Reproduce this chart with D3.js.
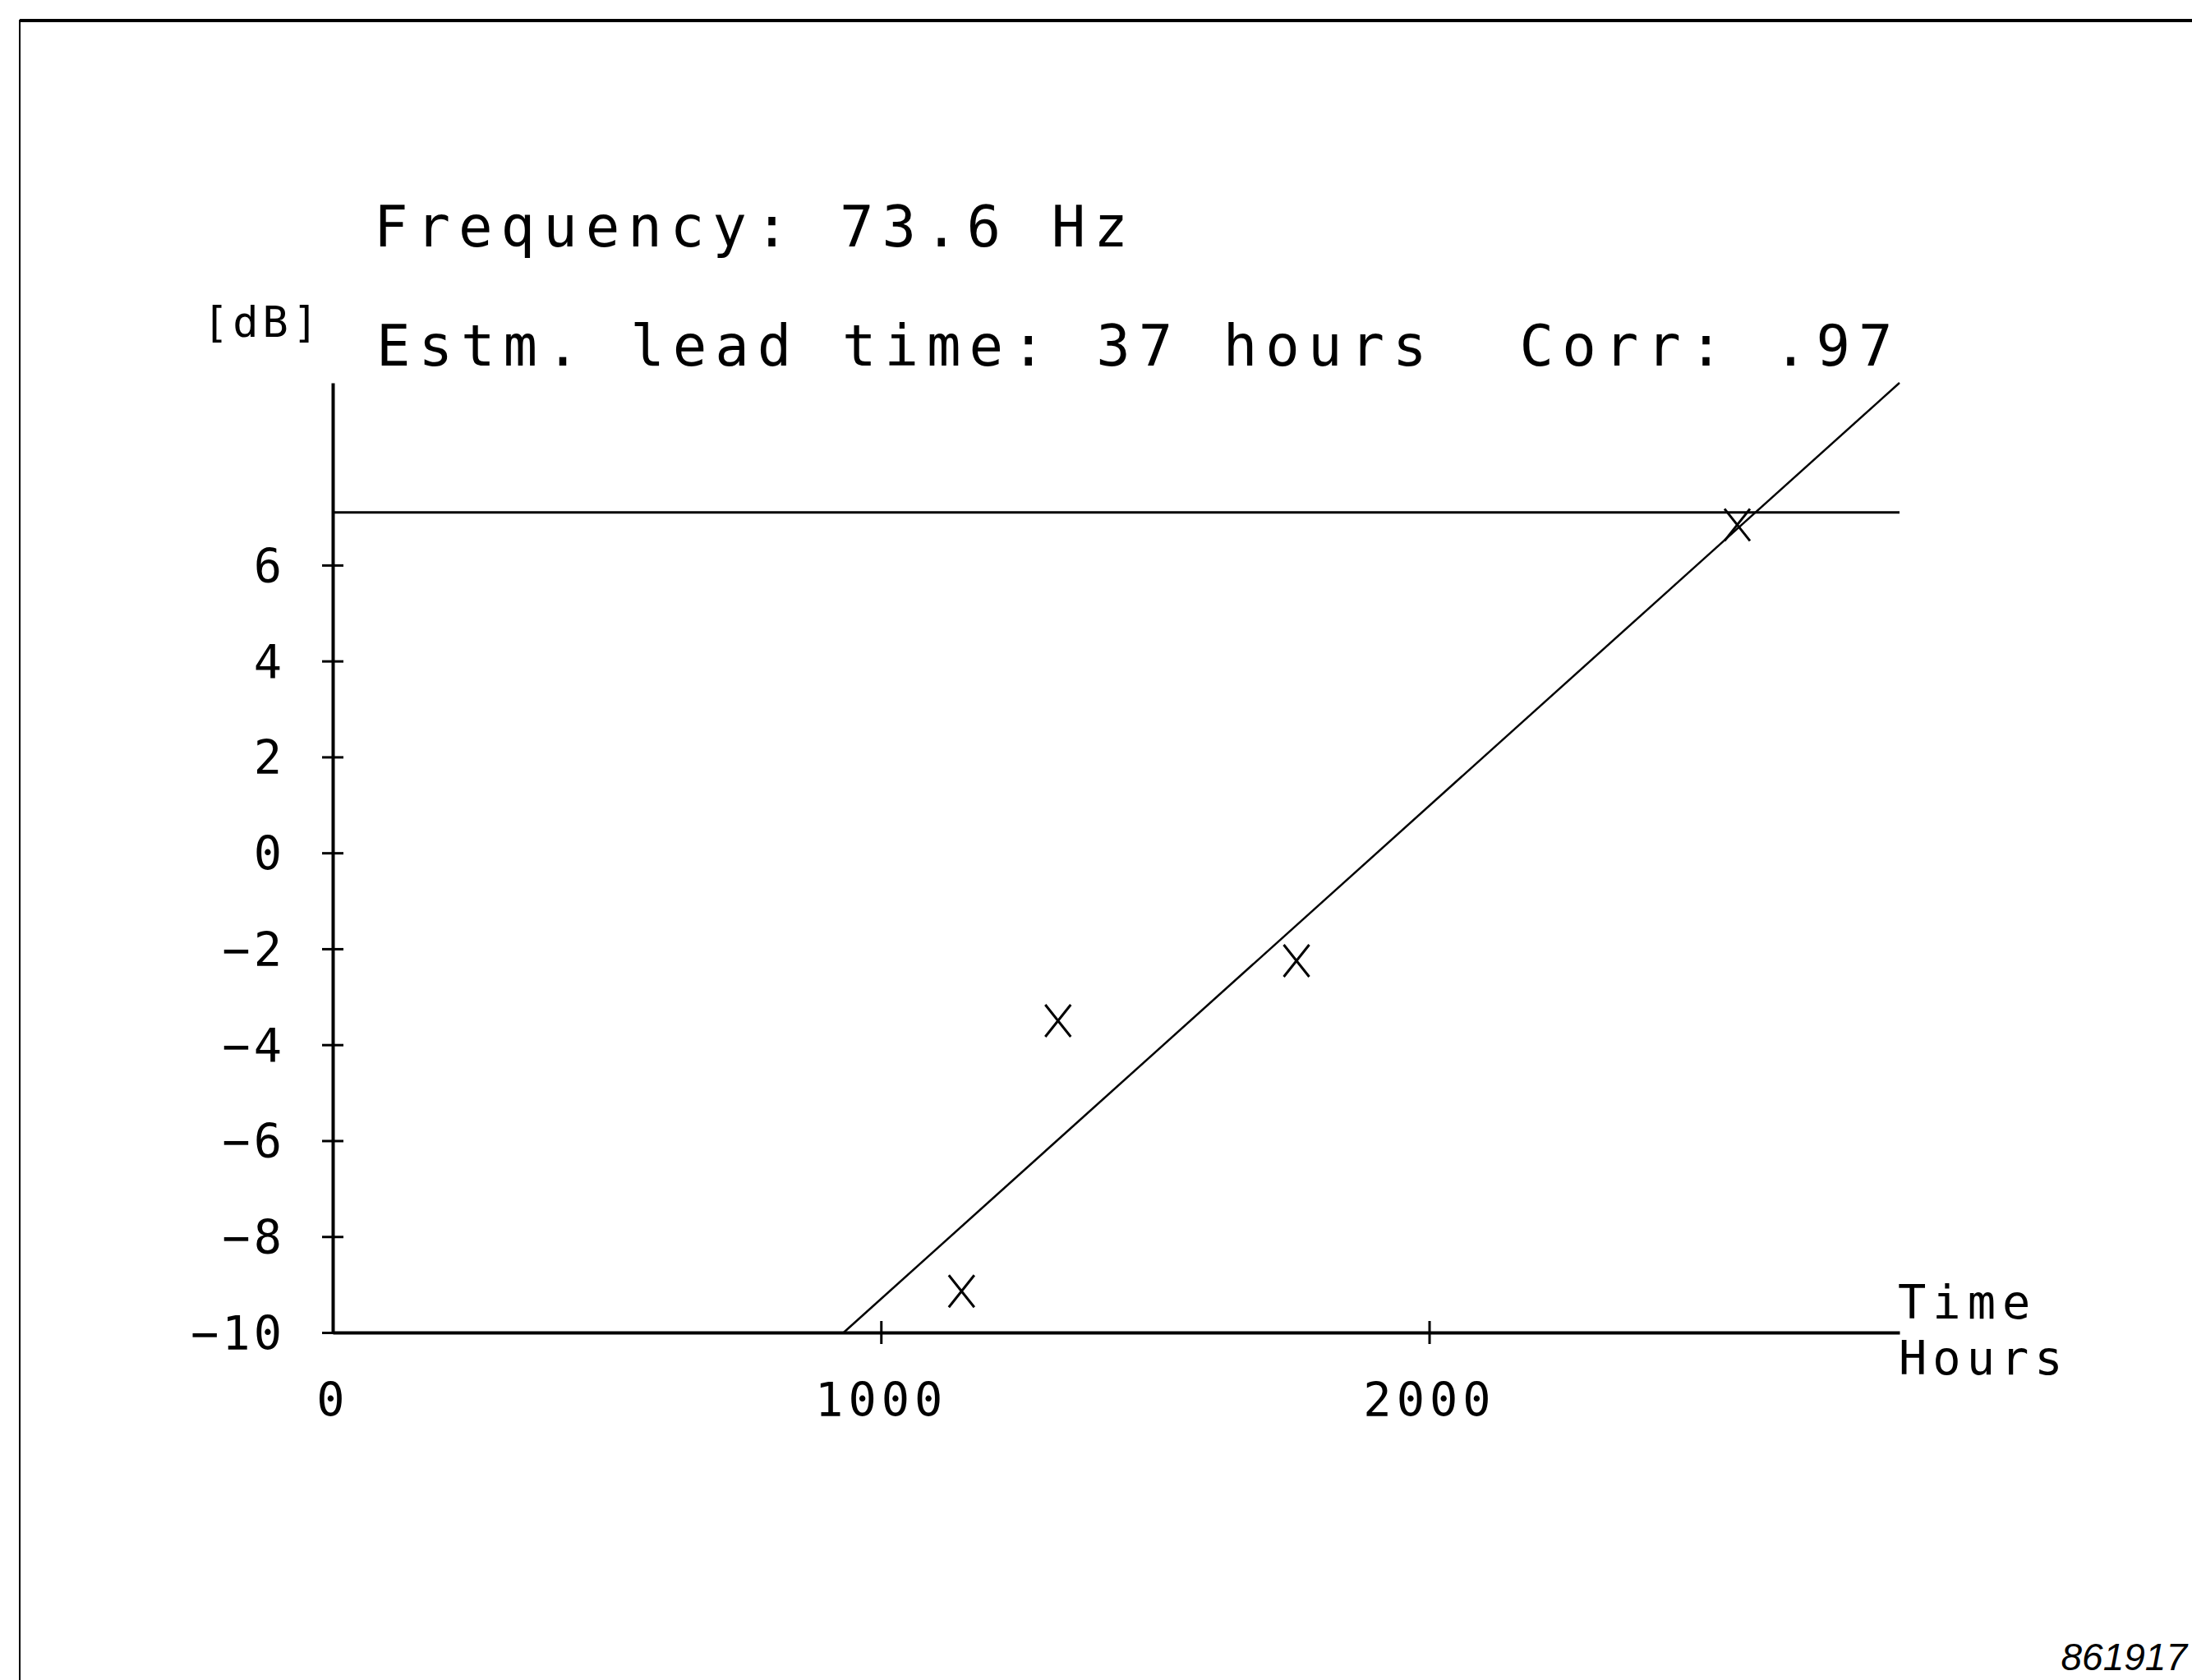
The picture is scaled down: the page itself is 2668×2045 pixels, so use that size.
<!DOCTYPE html>
<html>
<head>
<meta charset="utf-8">
<script src="https://cdn.jsdelivr.net/npm/d3@7/dist/d3.min.js"></script>
<style>
  body { margin: 0; background: #fff; }
  text { font-family: "DejaVu Sans Mono", monospace; fill: #000; white-space: pre; }
</style>
</head>
<body>
<div id="chart"></div>
<script>
// measured points (hours, dB)
const hours = [1147, 1323, 1758, 2562];
const levels = [-9.14, -3.5, -2.25, 6.84];
// fitted trend line end points
const fitHours = [932, 2858];
const fitLevels = [-10, 9.8];
const alarmLevel = 7.1;
const yTicks = [6, 4, 2, 0, -2, -4, -6, -8, -10];
const xTicks = [0, 1000, 2000];
const xTickMarks = [1000, 2000];
const title1 = "Frequency: 73.6 Hz";
const title2 = "Estm. lead time: 37 hours  Corr: .97";
const yUnit = "[dB]";
const xUnit = ["Time", "Hours"];
const figId = "861917";

const w = 2668;
const h = 2045;
const padLeft = 405;
const padRight = 2312;
const padTop = 466;
const padBottom = 1622;

const svg = d3
  .select("#chart")
  .append("svg")
  .attr("width", w)
  .attr("height", h);

svg.append("rect").attr("width", w).attr("height", h).style("fill", "#fff");

// frame of the scanned sheet
svg
  .append("path")
  .attr("d", `M24,${h} V25 H${w}`)
  .style("fill", "none")
  .style("stroke", "#000")
  .style("stroke-width", 2);
svg
  .append("line")
  .attr("x1", 24)
  .attr("x2", w)
  .attr("y1", 25)
  .attr("y2", 25)
  .style("stroke", "#000")
  .style("stroke-width", 4);

const x = d3.scaleLinear().domain([0, 2858]).range([padLeft, padRight]);
const y = d3.scaleLinear().domain([-10, 9.8]).range([padBottom, padTop]);

// y axis
const yAxis = d3
  .axisLeft(y)
  .tickValues(yTicks)
  .tickSize(0)
  .tickSizeOuter(0)
  .tickFormat(d3.format("d"));
const gy = svg
  .append("g")
  .attr("transform", `translate(${padLeft},0)`)
  .call(yAxis);
gy.attr("font-family", null).attr("font-size", null);
gy.select(".domain").style("stroke", "#000").style("stroke-width", 4);
gy.selectAll(".tick line")
  .attr("x1", -13)
  .attr("x2", 13)
  .style("stroke", "#000")
  .style("stroke-width", 3);
gy.selectAll(".tick text")
  .attr("x", -58)
  .attr("dy", "0.36em")
  .style("font-size", "57px")
  .style("letter-spacing", "4px")
  .attr("fill", "#000");

// x axis
const xAxis = d3
  .axisBottom(x)
  .tickValues(xTicks)
  .tickSize(0)
  .tickSizeOuter(0)
  .tickFormat(d3.format("d"));
const gx = svg
  .append("g")
  .attr("transform", `translate(0,${padBottom})`)
  .call(xAxis);
gx.attr("font-family", null).attr("font-size", null);
gx.select(".domain").style("stroke", "#000").style("stroke-width", 4);
gx.selectAll(".tick line")
  .attr("y1", (d) => (xTickMarks.includes(d) ? -14 : 0))
  .attr("y2", (d) => (xTickMarks.includes(d) ? 14 : 0))
  .style("stroke", "#000")
  .style("stroke-width", 3);
gx.selectAll(".tick text")
  .attr("y", 102)
  .attr("dy", 0)
  .style("font-size", "57px")
  .style("letter-spacing", "6px")
  .attr("fill", "#000");

// alarm level
svg
  .append("line")
  .attr("x1", x(0))
  .attr("x2", x(fitHours[1]))
  .attr("y1", y(alarmLevel))
  .attr("y2", y(alarmLevel))
  .style("stroke", "#000")
  .style("stroke-width", 3);

// trend line
const line = d3
  .line()
  .x((d) => x(d[0]))
  .y((d) => y(d[1]));
svg
  .append("path")
  .datum(d3.zip(fitHours, fitLevels))
  .attr("d", line)
  .style("fill", "none")
  .style("stroke", "#000")
  .style("stroke-width", 2.5);

// X markers
const mx = 15.5;
const my = 19.5;
svg
  .selectAll(".mark")
  .data(d3.zip(hours, levels))
  .enter()
  .append("path")
  .attr("class", "mark")
  .attr("d", (d) => {
    const cx = x(d[0]);
    const cy = y(d[1]);
    return `M${cx - mx},${cy - my}L${cx + mx},${cy + my}M${cx + mx},${cy - my}L${cx - mx},${cy + my}`;
  })
  .style("fill", "none")
  .style("stroke", "#000")
  .style("stroke-width", 3);

// texts
const texts = [
  { t: title1, x: 455, y: 300, size: 69, sp: 10 },
  { t: title2, x: 458, y: 445, size: 69, sp: 10 },
  { t: yUnit, x: 247, y: 410, size: 52, sp: 5 },
  { t: xUnit[0], x: 2310, y: 1605, size: 57, sp: 8 },
  { t: xUnit[1], x: 2311, y: 1673, size: 57, sp: 7 },
];
svg
  .selectAll(".label")
  .data(texts)
  .enter()
  .append("text")
  .attr("class", "label")
  .attr("x", (d) => d.x)
  .attr("y", (d) => d.y)
  .style("font-size", (d) => d.size + "px")
  .style("letter-spacing", (d) => d.sp + "px")
  .text((d) => d.t);

svg
  .append("text")
  .attr("x", 2662)
  .attr("y", 2033)
  .attr("text-anchor", "end")
  .style("font-family", "'Liberation Sans', Arial, sans-serif")
  .style("font-style", "italic")
  .style("font-size", "46px")
  .text(figId);
</script>
</body>
</html>
